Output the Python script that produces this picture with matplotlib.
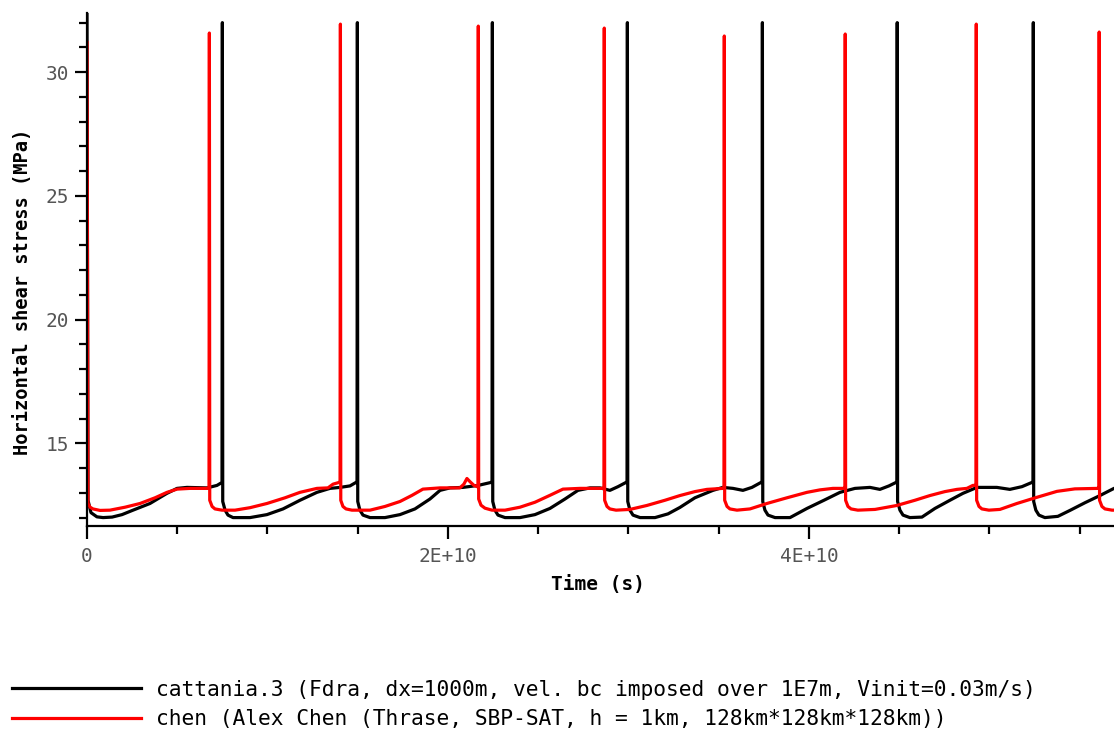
import numpy as np
import matplotlib
matplotlib.use("Agg")
import matplotlib.pyplot as plt
from matplotlib.ticker import MultipleLocator, FixedLocator, FuncFormatter

# ---------------- data (time in units of 1e9 s, stress in MPa) ----------------
black_t = [0.0, 0.055, 0.22, 0.55, 0.89, 1.39, 1.94, 2.55, 3.49, 4.43, 4.99, 5.54, 6.65, 7.20, 7.48,
           7.50, 7.52, 7.65, 7.81, 8.09, 9.03, 9.97, 10.86, 11.80, 12.74, 13.46, 14.02, 14.57, 14.90, 14.96,
           14.98, 15.00, 15.12, 15.29, 15.68, 16.51, 17.34, 18.17, 19.00, 19.56, 20.11, 20.83, 21.67, 22.38, 22.44,
           22.46, 22.48, 22.60, 22.77, 23.16, 23.99, 24.82, 25.65, 26.48, 27.20, 27.87, 28.42, 28.97, 29.42, 29.86, 29.92,
           29.94, 29.96, 30.08, 30.25, 30.64, 31.47, 32.19, 32.85, 33.68, 34.68, 35.23, 35.79, 36.34, 36.84, 37.34, 37.40,
           37.42, 37.44, 37.56, 37.73, 38.12, 38.95, 39.89, 40.83, 41.72, 42.55, 43.38, 43.93, 44.43, 44.82, 44.87,
           44.89, 44.91, 45.04, 45.21, 45.59, 46.26, 46.98, 47.81, 48.53, 49.31, 50.41, 51.13, 51.80, 52.35, 52.41,
           52.43, 52.45, 52.57, 52.74, 53.07, 53.79, 54.46, 55.29, 56.12, 56.90, 57.50]
black_v = [32.4, 12.7, 12.2, 12.03, 12.0, 12.02, 12.12, 12.3, 12.57, 12.98, 13.18, 13.22, 13.2, 13.3, 13.42,
           32.0, 12.65, 12.3, 12.1, 12.0, 12.0, 12.12, 12.35, 12.7, 13.02, 13.18, 13.22, 13.28, 13.42, 13.42,
           32.0, 12.65, 12.3, 12.1, 12.0, 12.0, 12.12, 12.35, 12.75, 13.1, 13.2, 13.22, 13.3, 13.42, 13.42,
           32.0, 12.65, 12.3, 12.1, 12.0, 12.0, 12.12, 12.37, 12.75, 13.1, 13.2, 13.2, 13.1, 13.25, 13.42, 13.42,
           32.0, 12.65, 12.3, 12.1, 12.0, 12.0, 12.15, 12.41, 12.8, 13.1, 13.22, 13.18, 13.1, 13.22, 13.42, 13.42,
           32.0, 12.65, 12.3, 12.1, 12.0, 12.0, 12.37, 12.7, 13.02, 13.18, 13.22, 13.14, 13.28, 13.42, 13.42,
           32.0, 12.65, 12.3, 12.1, 12.0, 12.02, 12.37, 12.7, 12.98, 13.22, 13.22, 13.14, 13.25, 13.42, 13.42,
           32.0, 12.65, 12.3, 12.1, 12.0, 12.05, 12.29, 12.6, 12.89, 13.18, 13.22]

red_t = [0.0, 0.055, 0.17, 0.33, 0.72, 1.27, 2.11, 2.94, 3.77, 4.43, 4.99, 5.71, 6.70, 6.76,
         6.78, 6.80, 6.93, 7.09, 7.48, 8.20, 9.03, 9.97, 10.97, 11.80, 12.74, 13.35, 13.63, 13.96, 14.02,
         14.04, 14.06, 14.18, 14.35, 14.68, 15.68, 16.51, 17.34, 18.01, 18.61, 19.56, 20.66, 20.88, 21.05, 21.22, 21.44, 21.61, 21.66,
         21.68, 21.70, 21.83, 22.05, 22.44, 23.16, 23.99, 24.82, 25.65, 26.37, 27.31, 28.59, 28.64,
         28.66, 28.68, 28.81, 28.97, 29.31, 30.08, 31.02, 32.02, 32.85, 33.68, 34.35, 35.23, 35.29,
         35.31, 35.33, 35.46, 35.62, 36.01, 36.73, 37.67, 38.78, 39.89, 40.61, 41.33, 41.94, 41.99,
         42.01, 42.03, 42.16, 42.33, 42.71, 43.66, 44.87, 45.87, 46.70, 47.53, 48.20, 48.75, 49.08, 49.19, 49.25,
         49.27, 49.29, 49.42, 49.58, 49.97, 50.58, 51.52, 52.63, 53.74, 54.73, 56.01, 56.06,
         56.08, 56.10, 56.23, 56.40, 56.79, 57.50]
red_v = [31.2, 12.57, 12.42, 12.35, 12.29, 12.3, 12.42, 12.57, 12.8, 13.02, 13.15, 13.18, 13.18, 13.18,
         31.58, 12.7, 12.45, 12.35, 12.3, 12.3, 12.4, 12.57, 12.8, 13.02, 13.18, 13.2, 13.35, 13.42, 13.42,
         31.94, 12.7, 12.45, 12.35, 12.3, 12.3, 12.45, 12.65, 12.9, 13.15, 13.2, 13.2, 13.35, 13.58, 13.45, 13.3, 13.25, 13.25,
         31.86, 12.75, 12.5, 12.38, 12.3, 12.3, 12.42, 12.62, 12.9, 13.15, 13.18, 13.18, 13.18,
         31.78, 12.7, 12.45, 12.35, 12.3, 12.33, 12.49, 12.7, 12.89, 13.05, 13.14, 13.18, 13.18,
         31.46, 12.7, 12.45, 12.35, 12.3, 12.35, 12.57, 12.8, 13.02, 13.12, 13.18, 13.18, 13.18,
         31.54, 12.7, 12.45, 12.35, 12.3, 12.33, 12.49, 12.7, 12.89, 13.05, 13.14, 13.18, 13.3, 13.3, 13.3,
         31.94, 12.7, 12.45, 12.35, 12.3, 12.33, 12.57, 12.82, 13.06, 13.16, 13.18, 13.18,
         31.62, 12.7, 12.45, 12.35, 12.3, 12.3]

label_black = "cattania.3 (Fdra, dx=1000m, vel. bc imposed over 1E7m, Vinit=0.03m/s)"
label_red = "chen (Alex Chen (Thrase, SBP-SAT, h = 1km, 128km*128km*128km))"
x_major = [0, 2e10, 4e10]
x_major_labels = ["0", "2E+10", "4E+10"]
y_major = [15, 20, 25, 30]

# ---------------- figure ----------------
plt.rcParams['font.family'] = ['DejaVu Sans Mono', 'DejaVu Sans']
fig = plt.figure(figsize=(11.14, 7.37), dpi=100)
ax = fig.add_axes([87 / 1114, 1 - 526 / 737, 1 - 87 / 1114, (526 - 13) / 737])

bt = np.array(black_t) * 1e9
rt = np.array(red_t) * 1e9
ax.plot(bt, black_v, color='black', lw=2.3, solid_joinstyle='round', label=label_black)
ax.plot(rt, red_v, color='#ff0000', lw=2.3, solid_joinstyle='round', label=label_red)

ax.set_xlim(0, 5.69e10)
ax.set_ylim(11.66, 32.39)

for s in ['top', 'right']:
    ax.spines[s].set_visible(False)
for s in ['left', 'bottom']:
    ax.spines[s].set_linewidth(1.6)

ax.xaxis.set_major_locator(FixedLocator(x_major))
ax.xaxis.set_major_formatter(FuncFormatter(lambda v, p: dict(zip(x_major, x_major_labels)).get(v, "")))
ax.xaxis.set_minor_locator(MultipleLocator(5e9))
ax.yaxis.set_major_locator(FixedLocator(y_major))
ax.yaxis.set_minor_locator(MultipleLocator(1))

ax.tick_params(which='major', length=9, width=1.6, color='black', labelcolor='#555555', labelsize=14)
ax.tick_params(which='minor', length=6, width=1.6, color='black')
ax.tick_params(axis='x', which='major', pad=6)
ax.tick_params(axis='y', which='major', pad=4)

ax.set_xlabel("Time (s)", fontsize=14, fontweight='bold')
ax.set_ylabel("Horizontal shear stress (MPa)", fontsize=13.5, fontweight='bold')
ax.xaxis.set_label_coords(0.498, -0.096)
ax.yaxis.set_label_coords(-0.054, 0.456)

fig.legend(loc='lower left', bbox_to_anchor=(0.003, -0.001), frameon=False,
           fontsize=15.3, handlelength=6.1, handletextpad=0.7, labelspacing=0.45,
           borderaxespad=0.0)

fig.savefig("out.png", dpi=100)
